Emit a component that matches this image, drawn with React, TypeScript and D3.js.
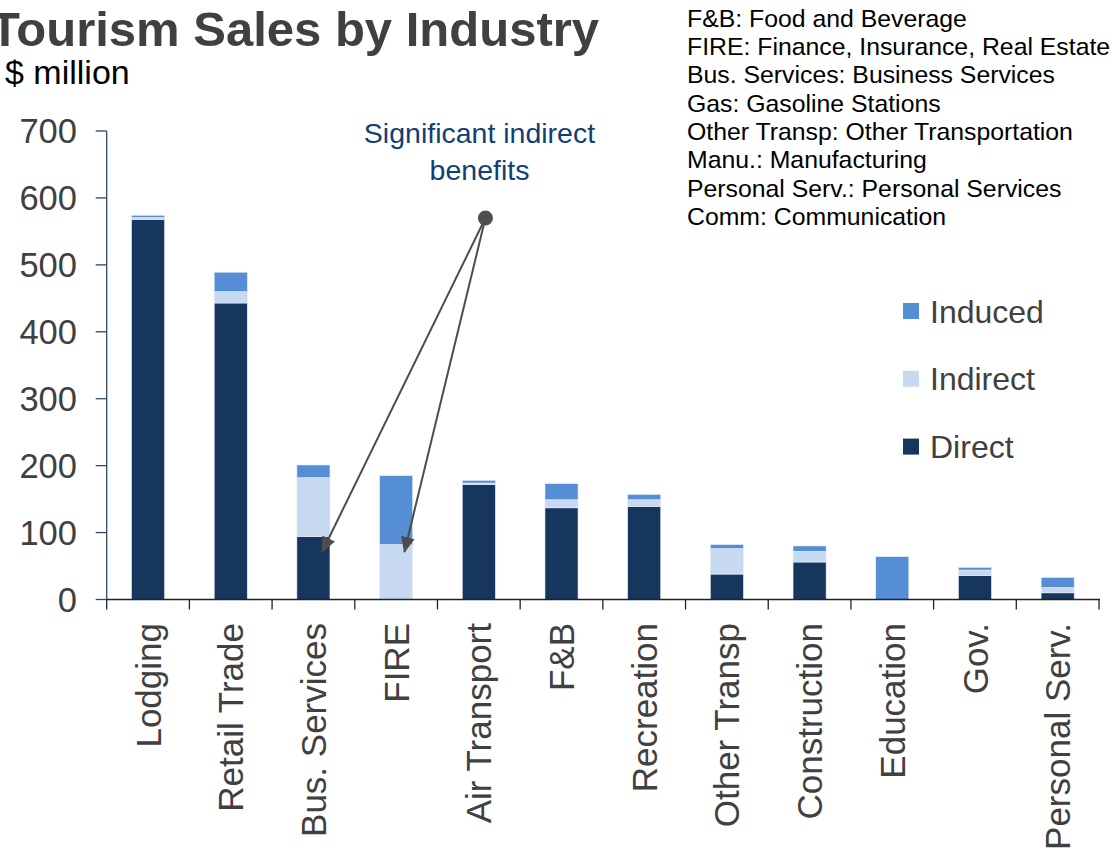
import React from "react";
import * as d3 from "d3";

const categories = [
  "Lodging",
  "Retail Trade",
  "Bus. Services",
  "FIRE",
  "Air Transport",
  "F&B",
  "Recreation",
  "Other Transp",
  "Construction",
  "Education",
  "Gov.",
  "Personal Serv.",
];
const direct = [568, 443, 94, 0, 172, 137, 139, 38, 56, 0, 36, 10];
const indirect = [3, 17, 88, 82, 2, 12, 10, 38, 16, 0, 8, 8];
const induced = [3, 29, 19, 103, 4, 24, 8, 6, 8, 64, 4, 15];
const yTicks = [0, 100, 200, 300, 400, 500, 600, 700];
const seriesKeys = ["direct", "indirect", "induced"];
const legendItems = ["Induced", "Indirect", "Direct"];
const notes = [
  "F&B: Food and Beverage",
  "FIRE: Finance, Insurance, Real Estate",
  "Bus. Services: Business Services",
  "Gas: Gasoline Stations",
  "Other Transp: Other Transportation",
  "Manu.:  Manufacturing",
  "Personal Serv.: Personal Services",
  "Comm: Communication",
];

const COLORS: Record<string, string> = {
  direct: "#17365d",
  indirect: "#c6d9f1",
  induced: "#558ed5",
};
const legendColor: Record<string, string> = {
  Induced: COLORS.induced,
  Indirect: COLORS.indirect,
  Direct: COLORS.direct,
};
const FONT = '"Liberation Sans", Arial, Helvetica, sans-serif';

export default function App() {
  const W = 1112;
  const H = 854;
  const x0 = 106.7;
  const x1 = 1099;
  const yBase = 599.5;
  const yTop = 131;

  const x = d3
    .scaleBand<string>()
    .domain(categories)
    .range([x0, x1])
    .paddingInner(0.6)
    .paddingOuter(0.3);
  const y = d3.scaleLinear().domain([0, 700]).range([yBase, yTop]);

  const rows = categories.map((c, i) => ({
    cat: c,
    direct: direct[i],
    indirect: indirect[i],
    induced: induced[i],
  }));
  const stacked = d3.stack<any>().keys(seriesKeys)(rows);

  const bw = x.bandwidth();
  const step = x.step();
  const boundaries = d3.range(categories.length + 1).map((i) => x0 + i * step);

  // annotation anchor points derived from scales
  const dot = { x: (x("Air Transport") as number) + bw * 0.7, y: y(570) };
  const tip1 = { x: (x("Bus. Services") as number) + bw * 0.76, y: y(71) };
  const tip2 = { x: (x("FIRE") as number) + bw * 0.75, y: y(71) };

  return (
    <svg
      width={W}
      height={H}
      style={{ position: "absolute", left: 0, top: 0, background: "#fff" }}
      fontFamily={FONT}
    >
      <defs>
        <marker
          id="arrow"
          viewBox="0 0 16 14"
          refX={15}
          refY={7}
          markerWidth={16}
          markerHeight={14}
          markerUnits="userSpaceOnUse"
          orient="auto"
        >
          <path d="M0,0 L16,7 L0,14 z" fill="#4d4d4d" />
        </marker>
      </defs>

      {/* Title */}
      <text x={-10} y={46} fontSize={49} fontWeight="bold" fill="#404040">
        Tourism Sales by Industry
      </text>
      <text x={5} y={84} fontSize={34} fill="#000">
        $ million
      </text>

      {/* Notes */}
      {notes.map((n, i) => (
        <text key={n} x={687} y={26.5 + i * 28.35} fontSize={24.8} fill="#000">
          {n}
        </text>
      ))}

      {/* Bars */}
      {stacked.map((s) => (
        <g key={s.key} fill={COLORS[s.key]}>
          {s.map((d, i) => {
            const h = y(d[0]) - y(d[1]);
            if (h <= 0) return null;
            return (
              <rect
                key={i}
                x={x(categories[i])}
                y={y(d[1])}
                width={bw}
                height={h}
                stroke="#e6eef8"
                strokeWidth={0.6}
              />
            );
          })}
        </g>
      ))}

      {/* Y axis */}
      <line x1={x0} x2={x0} y1={yTop} y2={yBase} stroke="#2b4a66" strokeWidth={1.3} />
      {yTicks.map((t) => (
        <g key={t}>
          <line x1={x0 - 11} x2={x0} y1={y(t)} y2={y(t)} stroke="#2b4a66" strokeWidth={1.3} />
          <text
            x={77}
            y={y(t)}
            dy="0.35em"
            textAnchor="end"
            fontSize={34.5}
            fill="#404040"
          >
            {t}
          </text>
        </g>
      ))}

      {/* X axis */}
      <line x1={x0} x2={x1 + 1} y1={yBase} y2={yBase} stroke="#222" strokeWidth={1.3} />
      {boundaries.map((b, i) => (
        <line key={i} x1={b} x2={b} y1={yBase} y2={yBase + 10} stroke="#222" strokeWidth={1.3} />
      ))}
      {categories.map((c) => {
        const cx = (x(c) as number) + bw / 2;
        return (
          <text
            key={c}
            transform={`translate(${cx},623) rotate(-90)`}
            dy="0.36em"
            textAnchor="end"
            fontSize={35}
            fill="#404040"
          >
            {c}
          </text>
        );
      })}

      {/* Legend */}
      {legendItems.map((l, i) => (
        <g key={l} transform={`translate(903,${303 + i * 67.8})`}>
          <rect x={0} y={0} width={16} height={16} fill={legendColor[l]} />
          <text x={27} y={19.5} fontSize={32} fill="#404040">
            {l}
          </text>
        </g>
      ))}

      {/* Annotation */}
      <text textAnchor="middle" fontSize={28.5} fill="#123f72">
        <tspan x={479.5} y={143.3}>
          Significant indirect
        </tspan>
        <tspan x={479.5} y={180}>
          benefits
        </tspan>
      </text>
      <line
        x1={dot.x}
        y1={dot.y}
        x2={tip1.x}
        y2={tip1.y}
        stroke="#4d4d4d"
        strokeWidth={2}
        markerEnd="url(#arrow)"
      />
      <line
        x1={dot.x}
        y1={dot.y}
        x2={tip2.x}
        y2={tip2.y}
        stroke="#4d4d4d"
        strokeWidth={2}
        markerEnd="url(#arrow)"
      />
      <circle cx={dot.x} cy={dot.y} r={7.5} fill="#4d4d4d" />
    </svg>
  );
}
